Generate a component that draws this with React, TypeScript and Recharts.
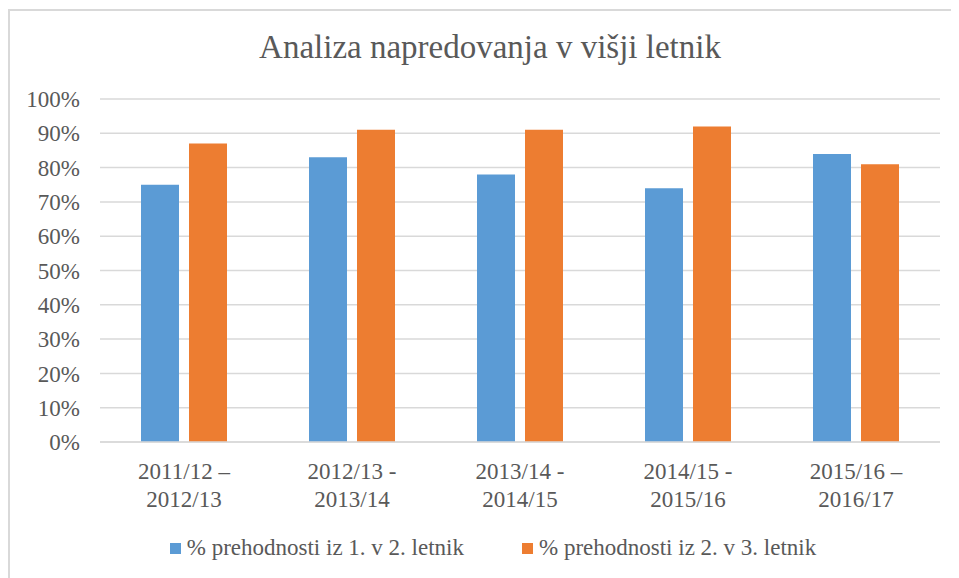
import { BarChart, Bar, XAxis, YAxis, CartesianGrid, Legend } from "recharts";

const periods = [
  ["2011/12 –", "2012/13"],
  ["2012/13 -", "2013/14"],
  ["2013/14 -", "2014/15"],
  ["2014/15 -", "2015/16"],
  ["2015/16 –", "2016/17"],
];
const firstToSecond = [0.75, 0.83, 0.78, 0.74, 0.84];
const secondToThird = [0.87, 0.91, 0.91, 0.92, 0.81];
const yTicks = [0, 0.1, 0.2, 0.3, 0.4, 0.5, 0.6, 0.7, 0.8, 0.9, 1];

const seriesNames = ["% prehodnosti iz 1. v 2. letnik", "% prehodnosti iz 2. v 3. letnik"];

const data = periods.map((p, i) => ({
  period: p.join("\n"),
  a: firstToSecond[i],
  b: secondToThird[i],
}));

const FONT = '"Liberation Serif", "Times New Roman", serif';
const TEXT = "#595959";

function PeriodTick({ x, y, payload }: any) {
  const lines = String(payload.value).split("\n");
  return (
    <text x={x} y={y} textAnchor="middle" fill={TEXT} fontFamily={FONT} fontSize={23}>
      {lines.map((l, i) => (
        <tspan key={i} x={x} dy={i === 0 ? 29 : 28}>
          {l}
        </tspan>
      ))}
    </text>
  );
}

function LegendBox({ payload }: any) {
  return (
    <div
      style={{
        height: 28,
        display: "flex",
        justifyContent: "center",
        alignItems: "center",
        gap: 58,
        paddingLeft: 36,
        fontFamily: FONT,
        fontSize: 23,
        color: TEXT,
      }}
    >
      {(payload || []).map((item: any) => (
        <div key={item.value} style={{ display: "flex", alignItems: "center" }}>
          <span style={{ width: 11, height: 11, background: item.color, marginRight: 6, display: "inline-block" }} />
          <span>{item.value}</span>
        </div>
      ))}
    </div>
  );
}

export default function App() {
  return (
    <div
      style={{
        position: "relative",
        marginTop: 1,
        width: 949,
        height: 567,
        borderTop: "2px solid #d9d9d9",
        borderLeft: "2px solid #d9d9d9",
        background: "#fff",
      }}
    >
      <div
        style={{
          position: "absolute",
          top: 18,
          left: 0,
          width: 960,
          textAlign: "center",
          fontFamily: FONT,
          fontSize: 33,
          color: TEXT,
          zIndex: 1,
        }}
      >
        Analiza napredovanja v višji letnik
      </div>
      <BarChart
        width={949}
        height={567}
        data={data}
        margin={{ top: 88, right: 19, bottom: 16, left: 0 }}
        barGap={10}
        barCategoryGap={41}
      >
        <CartesianGrid vertical={false} stroke="#d9d9d9" strokeWidth={1.5} />
        <XAxis
          dataKey="period"
          height={92}
          axisLine={{ stroke: "#d9d9d9", strokeWidth: 1.5 }}
          tickLine={false}
          interval={0}
          tick={<PeriodTick />}
        />
        <YAxis
          width={90}
          domain={[0, 1]}
          ticks={yTicks}
          axisLine={false}
          tickLine={false}
          tickSize={0}
          tickMargin={20}
          tickFormatter={(v: number) => `${Math.round(v * 100)}%`}
          tick={{ fill: TEXT, fontFamily: FONT, fontSize: 23 }}
        />
        <Legend verticalAlign="bottom" height={28} content={<LegendBox />} />
        <Bar dataKey="a" name={seriesNames[0]} fill="#5B9BD5" isAnimationActive={false} />
        <Bar dataKey="b" name={seriesNames[1]} fill="#ED7D31" isAnimationActive={false} />
      </BarChart>
    </div>
  );
}
